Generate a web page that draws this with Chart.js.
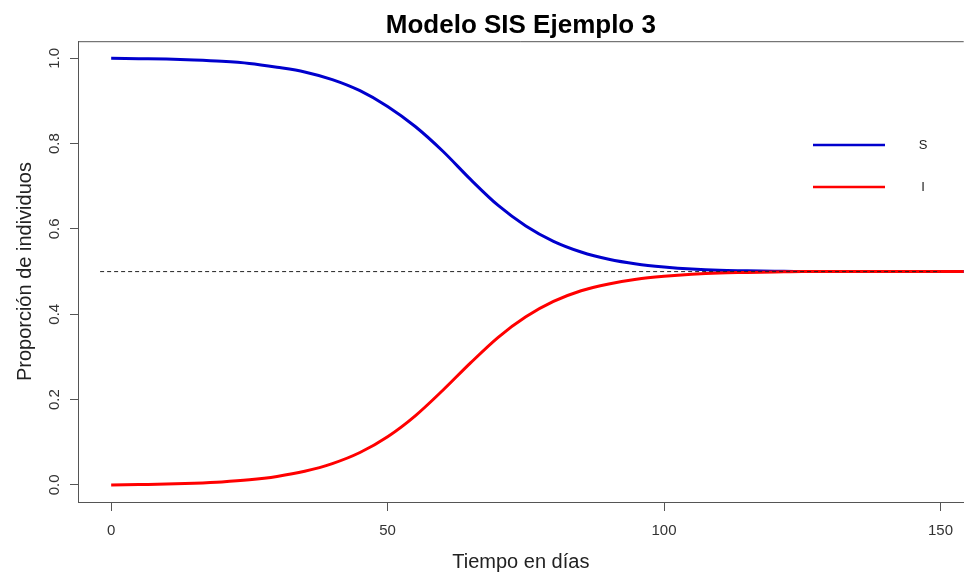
<!DOCTYPE html>
<html>
<head>
<meta charset="utf-8">
<script src="https://cdn.jsdelivr.net/npm/chart.js@4/dist/chart.umd.min.js"></script>
<style>
  html, body { margin: 0; padding: 0; background: #fff; }
  canvas { display: block; }
</style>
</head>
<body>
<canvas id="canvas" width="964" height="572"></canvas>
<script>
// Tiempo (días) y proporciones
let dias = [0, 5, 10, 15, 20, 25, 30, 35, 40, 45, 50, 55, 60, 65, 70, 75, 80, 85, 90, 95, 100, 105, 110, 115, 120, 125, 130, 135, 140, 145, 150, 155];
let susceptibles = [1.0, 0.999, 0.998, 0.996, 0.993, 0.988, 0.979, 0.968, 0.950, 0.924, 0.887, 0.840, 0.782, 0.716, 0.655, 0.607, 0.571, 0.546, 0.529, 0.518, 0.511, 0.506, 0.503, 0.502, 0.501, 0.500, 0.500, 0.500, 0.500, 0.500, 0.500, 0.500];
let infectados = [0.0, 0.001, 0.002, 0.004, 0.007, 0.012, 0.020, 0.032, 0.050, 0.076, 0.113, 0.162, 0.222, 0.286, 0.346, 0.394, 0.430, 0.455, 0.471, 0.482, 0.489, 0.494, 0.497, 0.498, 0.499, 0.500, 0.500, 0.500, 0.500, 0.500, 0.500, 0.500];
// linea de equilibrio
let equilibrio = 0.5;
let equilibrioDias = [-2, 150];

let xTicks = [0, 50, 100, 150];
let yTicks = [0.0, 0.2, 0.4, 0.6, 0.8, 1.0];

Chart.defaults.font.family = "'Liberation Sans', Arial, sans-serif";

function pares(xs, ys) {
    return xs.map((x, i) => ({ x: x, y: ys[i] }));
}

// caja superior (R dibuja box alrededor del panel)
const cajaPlugin = {
    id: 'caja',
    afterDraw(chart) {
        const ctx = chart.ctx;
        const a = chart.chartArea;
        ctx.save();
        ctx.strokeStyle = '#555';
        ctx.lineWidth = 1;
        ctx.beginPath();
        ctx.moveTo(a.left, a.top + 0.5);
        ctx.lineTo(a.right, a.top + 0.5);
        ctx.stroke();
        ctx.restore();
    }
};

// leyenda al estilo de R, sin recuadro
const leyendaPlugin = {
    id: 'leyenda',
    afterDraw(chart, args, opts) {
        const ctx = chart.ctx;
        ctx.save();
        ctx.font = "13px 'Liberation Sans', Arial, sans-serif";
        ctx.textBaseline = 'middle';
        ctx.textAlign = 'center';
        let y = opts.y;
        chart.data.datasets.forEach((ds) => {
            if (!ds.enLeyenda) return;
            ctx.strokeStyle = ds.borderColor;
            ctx.lineWidth = 2.5;
            ctx.beginPath();
            ctx.moveTo(opts.x1, y);
            ctx.lineTo(opts.x2, y);
            ctx.stroke();
            ctx.fillStyle = '#222';
            ctx.fillText(ds.label, opts.xt, y);
            y += opts.paso;
        });
        ctx.restore();
    }
};

new Chart(document.getElementById('canvas'), {
    type: 'line',
    data: {
        datasets: [{
            label: 'equilibrio',
            data: pares(equilibrioDias, equilibrioDias.map(() => equilibrio)),
            borderColor: '#222',
            borderWidth: 1,
            borderDash: [4, 3],
            pointRadius: 0,
            fill: false,
            order: 0
        }, {
            label: 'S',
            enLeyenda: true,
            data: pares(dias, susceptibles),
            borderColor: '#0000CD',
            borderWidth: 3,
            pointRadius: 0,
            cubicInterpolationMode: 'monotone',
            fill: false,
            order: 2
        }, {
            label: 'I',
            enLeyenda: true,
            data: pares(dias, infectados),
            borderColor: '#FF0000',
            borderWidth: 3,
            pointRadius: 0,
            cubicInterpolationMode: 'monotone',
            fill: false,
            order: 1
        }]
    },
    options: {
        responsive: false,
        animation: false,
        devicePixelRatio: 1,
        layout: { padding: 0 },
        scales: {
            x: {
                type: 'linear',
                min: -6,
                max: 154.2,
                afterBuildTicks: (s) => { s.ticks = xTicks.map(v => ({ value: v })); },
                afterFit: (s) => { s.height = 70; },
                ticks: { color: '#333', font: { size: 15 }, padding: 11, maxRotation: 0 },
                grid: { drawOnChartArea: false, tickLength: 9, color: '#555' },
                border: { color: '#555' },
                title: {
                    display: true,
                    text: 'Tiempo en días',
                    color: '#222',
                    font: { size: 20, lineHeight: 1 },
                    padding: { top: 0, bottom: 0 }
                }
            },
            y: {
                min: -0.04,
                max: 1.04,
                afterBuildTicks: (s) => { s.ticks = yTicks.map(v => ({ value: v })); },
                afterFit: (s) => { s.width = 78; },
                ticks: {
                    color: '#333',
                    font: { size: 15 },
                    minRotation: 90,
                    maxRotation: 90,
                    crossAlign: 'center',
                    padding: 5,
                    callback: (v) => Number(v).toFixed(1)
                },
                grid: { drawOnChartArea: false, tickLength: 8, color: '#555' },
                border: { color: '#555' },
                title: {
                    display: true,
                    text: 'Proporción de individuos',
                    color: '#222',
                    font: { size: 20, lineHeight: 1.2 },
                    padding: { top: 13, bottom: 0 }
                }
            }
        },
        plugins: {
            legend: { display: false },
            tooltip: { enabled: false },
            title: {
                display: true,
                text: 'Modelo SIS Ejemplo 3',
                color: '#000',
                fullSize: false,
                font: { size: 26, weight: 'bold', lineHeight: 1.2 },
                padding: { top: 10, bottom: 0 }
            },
            leyenda: { x1: 813, x2: 885, xt: 923, y: 145, paso: 42 }
        }
    },
    plugins: [cajaPlugin, leyendaPlugin]
});
</script>
</body>
</html>
